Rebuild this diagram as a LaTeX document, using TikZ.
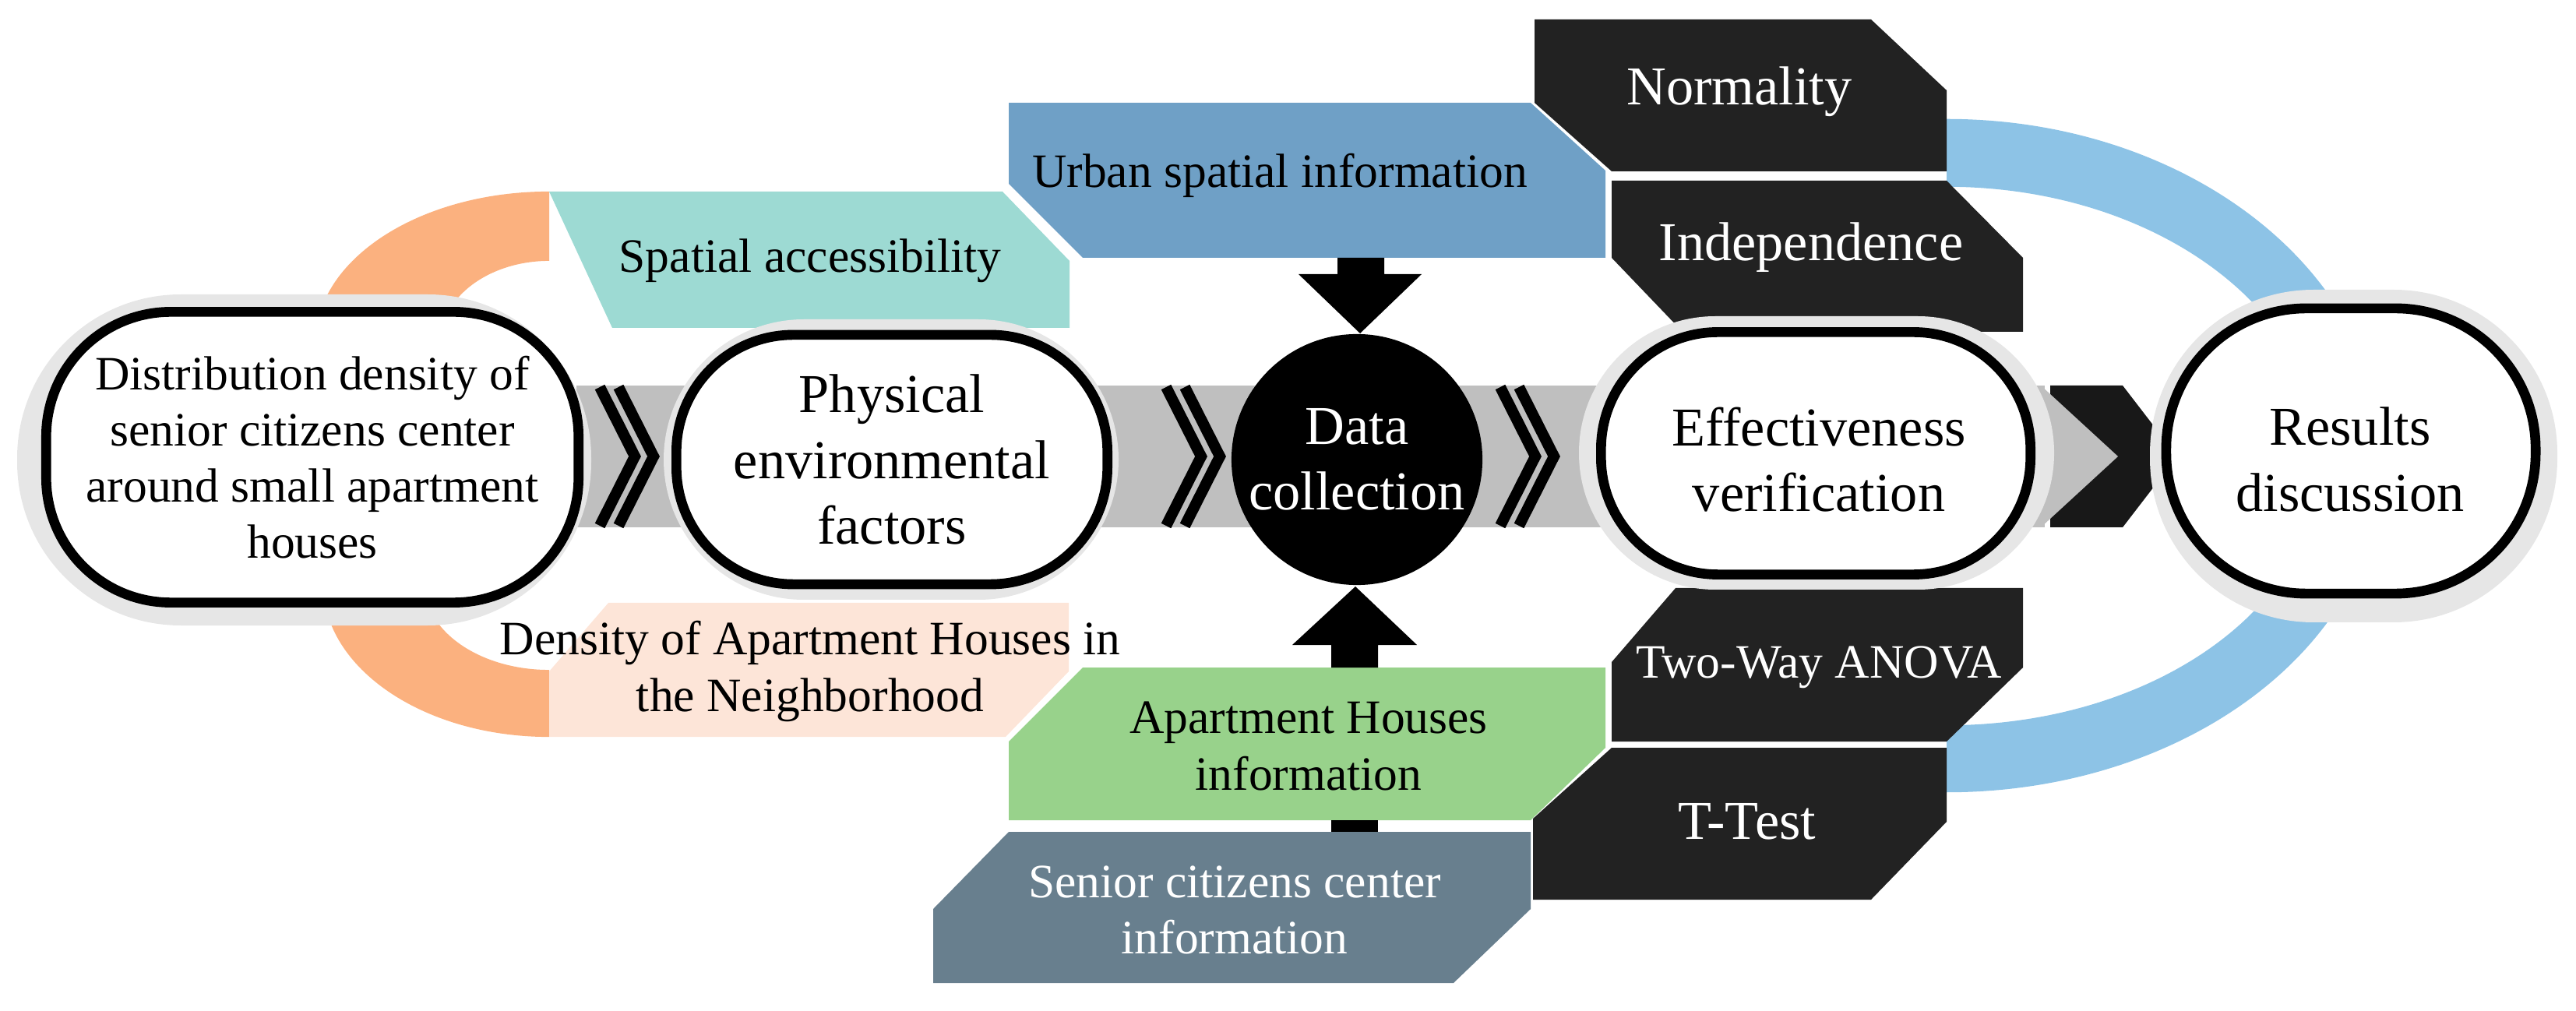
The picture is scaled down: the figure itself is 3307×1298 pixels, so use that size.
\documentclass[tikz,border=0pt]{standalone}
\usepackage{fontspec}
\setmainfont{Liberation Serif}
\usetikzlibrary{positioning}
\definecolor{color_ring_orange}{HTML}{FBB17F}
\definecolor{color_ring_blue}{HTML}{8DC3E6}
\definecolor{color_band}{HTML}{BFBFBF}
\definecolor{color_halo}{HTML}{E6E6E6}
\definecolor{color_box_teal}{HTML}{9DDAD3}
\definecolor{color_box_peach}{HTML}{FDE5D8}
\definecolor{color_box_urban}{HTML}{6FA0C6}
\definecolor{color_box_green}{HTML}{98D28B}
\definecolor{color_box_slate}{HTML}{687F8E}
\definecolor{color_box_dark}{HTML}{222222}

\begin{document}
\begin{tikzpicture}[x=0.01cm, y=-0.01cm,
    lbl/.style={align=center, inner sep=0pt, font=\fontsize{17.5}{20.5}\selectfont},
    biglbl/.style={align=center, inner sep=0pt, font=\fontsize{20}{24}\selectfont},
    halo/.style={draw=none, fill=color_halo},
    stage/.style={draw=black, line width=3.6pt, fill=white, inner sep=0pt},
    chev/.style={line width=4pt, black, line join=miter}]
    \useasboundingbox (0,0) rectangle (3307,1298);
    % rings behind everything
    \begin{scope}
        \clip (300,200) rectangle (705,440);
        \fill[color_ring_orange, even odd rule] (705,440) ellipse[x radius=3cm, y radius=1.94cm]
            (705,440) ellipse[x radius=1.4cm, y radius=1.05cm];
    \end{scope}
    \begin{scope}
        \clip (300,750) rectangle (705,1000);
        \fill[color_ring_orange, even odd rule] (705,750) ellipse[x radius=2.9cm, y radius=1.96cm]
            (705,750) ellipse[x radius=1.6cm, y radius=1.1cm];
    \end{scope}
    \begin{scope}
        \clip (2499,100) rectangle (3150,590);
        \fill[color_ring_blue, even odd rule] (2499,590) ellipse[x radius=5.6cm, y radius=4.37cm]
            (2499,590) ellipse[x radius=4.8cm, y radius=3.5cm];
    \end{scope}
    \begin{scope}
        \clip (2499,590) rectangle (3150,1050);
        \fill[color_ring_blue, even odd rule] (2499,590) ellipse[x radius=5.6cm, y radius=4.27cm]
            (2499,590) ellipse[x radius=4.8cm, y radius=3.41cm];
    \end{scope}
    % band
    \fill[color_band] (740,495) rectangle (2625,677);
    \fill[color_box_dark!70!black] (2632,495) -- (2725,495) -- (2795,586) -- (2725,677) -- (2632,677) -- cycle;
    \fill[color_band] (2620,495) -- (2719,586) -- (2620,677) -- cycle;
    \foreach \x in {770,794,1497,1521,1926,1950}
        \draw[chev] (\x,497) -- (\x+45,586) -- (\x,675);
    % side boxes
    \fill[color_box_teal] (705,246) -- (1287,246) -- (1373,335) -- (1373,421) -- (786,421) -- cycle;
    \fill[color_box_peach] (781,774) -- (1372,774) -- (1372,862) -- (1291,946) -- (705,946) -- (705,862) -- cycle;
    \fill[color_box_urban] (1295,132) -- (1965,132) -- (2061,219) -- (2061,331) -- (1390,331) -- (1295,236) -- cycle;
    \fill[color_box_green] (1390,857) -- (2061,857) -- (2061,960) -- (1965,1053) -- (1295,1053) -- (1295,952) -- cycle;
    \fill[color_box_slate] (1295,1068) -- (1965,1068) -- (1965,1167) -- (1866,1262) -- (1198,1262) -- (1198,1167) -- cycle;
    \fill[color_box_dark] (1970,25) -- (2402,25) -- (2499,116) -- (2499,220) -- (2069,220) -- (1970,132) -- cycle;
    \fill[color_box_dark] (2069,232) -- (2499,232) -- (2597,331) -- (2597,426) -- (2160,426) -- (2069,331) -- cycle;
    \fill[color_box_dark] (2151,755) -- (2597,755) -- (2597,857) -- (2499,952) -- (2069,952) -- (2069,850) -- cycle;
    \fill[color_box_dark] (2069,960) -- (2499,960) -- (2499,1055) -- (2402,1155) -- (1968,1155) -- (1968,1051) -- cycle;
    % arrows into the data node
    \fill[black] (1717,331) -- (1777,331) -- (1777,352) -- (1825,352) -- (1746,428) -- (1667,352) -- (1717,352) -- cycle;
    \fill[black] (1709,857) -- (1769,857) -- (1769,828) -- (1819,828) -- (1740,753) -- (1659,828) -- (1709,828) -- cycle;
    \fill[black] (1709,1053) rectangle (1769,1068);
    % stages
    \fill[halo, rounded corners=2.1cm] (22,378) rectangle (759,803);
    \fill[halo, rounded corners=1.8cm] (852,410) rectangle (1436,770);
    \fill[halo, rounded corners=1.75cm] (2027,406) rectangle (2637,757);
    \fill[halo, rounded corners=2.1cm] (2760,372) rectangle (3283,799);
    \node[stage, rounded corners=1.6cm, minimum width=6.83cm, minimum height=3.73cm] (distribution) at (401,587) {};
    \node[stage, rounded corners=1.5cm, minimum width=5.53cm, minimum height=3.2cm] (physical) at (1145,590) {};
    \node[circle, fill=black, minimum size=3.22cm, inner sep=0pt] (data) at (1742,590) {};
    \node[stage, rounded corners=1.5cm, minimum width=5.51cm, minimum height=3.11cm] (effectiveness) at (2331,582) {};
    \node[stage, rounded corners=1.8cm, minimum width=4.74cm, minimum height=3.66cm] (results) at (3018,579) {};
    % texts
    \node[lbl] (distribution_txt) at (distribution) {Distribution density of\\senior citizens center\\around small apartment\\houses};
    \node[biglbl] (physical_txt) at (physical) {Physical\\environmental\\factors};
    \node[biglbl, text=white] (data_txt) at (data) {Data\\collection};
    \node[biglbl] (effectiveness_txt) at (2335,590) {Effectiveness\\verification};
    \node[biglbl] (results_txt) at (3017,590) {Results\\discussion};
    \node[lbl] (spatial) at (1040,335) {Spatial accessibility};
    \node[lbl] (density) at (1040,862) {Density of Apartment Houses in\\the Neighborhood};
    \node[lbl] (urban) at (1643,225) {Urban spatial information};
    \node[lbl] (apartment) at (1680,958) {Apartment Houses\\information};
    \node[lbl, text=white] (senior) at (1585,1168) {Senior citizens center\\information};
    \node[biglbl, text=white] (normality) at (2233,118) {Normality};
    \node[biglbl, text=white] (independence) at (2325,318) {Independence};
    \node[lbl, text=white] (twoway) at (2335,857) {Two-Way ANOVA};
    \node[biglbl, text=white] (ttest) at (2243,1055) {T-Test};
\end{tikzpicture}
\end{document}
